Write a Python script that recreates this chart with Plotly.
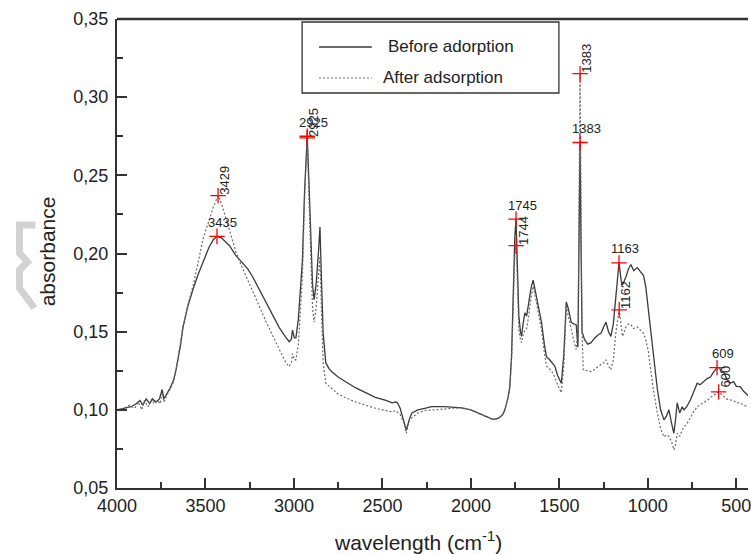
import plotly.graph_objects as go

# ---------------- data ----------------
wn_before = [4000, 3960, 3920, 3890, 3870, 3855, 3835, 3815, 3800, 3780, 3760, 3745, 3735, 3720, 3700,
             3680, 3664, 3640, 3627, 3600, 3571, 3540, 3515, 3480, 3455, 3435, 3410, 3380, 3364, 3330,
             3300, 3260, 3233, 3200, 3158, 3120, 3083, 3050, 3027, 3015, 3008, 2998, 2989, 2975, 2965,
             2952, 2940, 2932, 2925, 2915, 2905, 2895, 2886, 2875, 2862, 2853, 2845, 2835, 2820, 2800,
             2783, 2750, 2708, 2650, 2595, 2540, 2480, 2445, 2425, 2415, 2400, 2380, 2365, 2355, 2345,
             2333, 2300, 2260, 2222, 2150, 2100, 2052, 2000, 1958, 1920, 1880, 1860, 1840, 1820, 1808,
             1790, 1780, 1770, 1761, 1752, 1745, 1738, 1729, 1720, 1714, 1705, 1695, 1685, 1676, 1660,
             1648, 1635, 1620, 1601, 1585, 1573, 1555, 1540, 1526, 1510, 1489, 1475, 1461, 1450, 1433,
             1420, 1405, 1395, 1390, 1383, 1377, 1372, 1358, 1340, 1321, 1300, 1280, 1265, 1250, 1237,
             1222, 1209, 1195, 1180, 1163, 1150, 1143, 1124, 1110, 1096, 1080, 1060, 1040, 1025, 1012,
             998, 984, 965, 946, 928, 909, 895, 881, 867, 853, 845, 834, 820, 806, 796, 780, 759, 740,
             721, 705, 684, 665, 646, 630, 609, 595, 585, 571, 555, 534, 515, 500, 478, 460, 441, 434]
abs_before = [0.100, 0.101, 0.102, 0.104, 0.106, 0.103, 0.107, 0.104, 0.107, 0.105, 0.107, 0.113, 0.107, 0.110, 0.114,
              0.119, 0.127, 0.142, 0.153, 0.166, 0.177, 0.187, 0.194, 0.204, 0.209, 0.211, 0.210, 0.207, 0.205, 0.199,
              0.195, 0.190, 0.185, 0.178, 0.169, 0.161, 0.1526, 0.147, 0.1436, 0.145, 0.151, 0.146, 0.146, 0.158, 0.175,
              0.196, 0.240, 0.265, 0.275, 0.245, 0.205, 0.180, 0.1705, 0.180, 0.200, 0.217, 0.185, 0.149, 0.130, 0.126,
              0.124, 0.121, 0.118, 0.114, 0.111, 0.108, 0.106, 0.1045, 0.105, 0.1045, 0.101, 0.093, 0.087, 0.091, 0.095,
              0.098, 0.100, 0.101, 0.102, 0.102, 0.1018, 0.1013, 0.100, 0.098, 0.096, 0.094, 0.094, 0.095, 0.097, 0.100,
              0.108, 0.115, 0.135, 0.181, 0.210, 0.222, 0.190, 0.160, 0.150, 0.147, 0.155, 0.162, 0.160, 0.166, 0.178,
              0.183, 0.175, 0.166, 0.156, 0.142, 0.134, 0.132, 0.130, 0.128, 0.122, 0.117, 0.135, 0.169, 0.165, 0.156,
              0.155, 0.1545, 0.140, 0.200, 0.271, 0.200, 0.150, 0.145, 0.142, 0.143, 0.146, 0.148, 0.149, 0.153, 0.156,
              0.150, 0.147, 0.155, 0.175, 0.194, 0.182, 0.180, 0.185, 0.190, 0.193, 0.189, 0.191, 0.1885, 0.186, 0.179,
              0.165, 0.151, 0.130, 0.113, 0.100, 0.0936, 0.096, 0.100, 0.092, 0.085, 0.092, 0.1045, 0.098, 0.102, 0.100,
              0.102, 0.1064, 0.112, 0.117, 0.116, 0.118, 0.120, 0.121, 0.124, 0.127, 0.127, 0.124, 0.124, 0.120, 0.117,
              0.118, 0.115, 0.1148, 0.112, 0.110, 0.109]

wn_after = [4000, 3960, 3930, 3900, 3880, 3860, 3845, 3825, 3805, 3790, 3770, 3755, 3745, 3735, 3720,
            3700, 3680, 3664, 3640, 3627, 3600, 3571, 3540, 3515, 3477, 3455, 3429, 3410, 3383, 3355,
            3327, 3300, 3270, 3233, 3195, 3160, 3120, 3080, 3045, 3027, 3015, 3008, 2998, 2989, 2975,
            2965, 2952, 2940, 2932, 2925, 2915, 2905, 2895, 2886, 2875, 2862, 2853, 2845, 2835, 2820,
            2800, 2783, 2750, 2708, 2650, 2595, 2540, 2480, 2445, 2425, 2415, 2400, 2380, 2365, 2355,
            2345, 2333, 2300, 2260, 2222, 2150, 2100, 2052, 2000, 1958, 1920, 1880, 1860, 1840, 1820,
            1808, 1790, 1780, 1770, 1761, 1752, 1744, 1738, 1729, 1720, 1714, 1705, 1695, 1685, 1676,
            1660, 1648, 1635, 1620, 1601, 1585, 1573, 1555, 1540, 1526, 1510, 1489, 1475, 1461, 1450,
            1433, 1420, 1405, 1395, 1390, 1383, 1377, 1372, 1365, 1340, 1321, 1300, 1280, 1265, 1250,
            1237, 1222, 1209, 1195, 1180, 1162, 1150, 1143, 1124, 1110, 1096, 1080, 1060, 1040, 1025,
            1012, 998, 984, 965, 946, 928, 909, 895, 881, 867, 853, 845, 834, 820, 806, 796, 780, 759,
            740, 721, 705, 684, 665, 646, 630, 600, 585, 571, 555, 534, 515, 500, 478, 460, 441, 434]
abs_after = [0.100, 0.101, 0.103, 0.101, 0.105, 0.100, 0.106, 0.102, 0.107, 0.104, 0.106, 0.104, 0.111, 0.105, 0.109,
             0.113, 0.118, 0.127, 0.144, 0.153, 0.167, 0.179, 0.195, 0.209, 0.222, 0.230, 0.237, 0.232, 0.222, 0.211,
             0.2006, 0.193, 0.185, 0.176, 0.166, 0.157, 0.147, 0.138, 0.130, 0.1277, 0.130, 0.136, 0.132, 0.132, 0.142,
             0.160, 0.185, 0.235, 0.262, 0.274, 0.235, 0.195, 0.165, 0.156, 0.165, 0.185, 0.198, 0.165, 0.130, 0.117,
             0.115, 0.113, 0.110, 0.1077, 0.105, 0.103, 0.101, 0.0995, 0.0987, 0.0995, 0.0985, 0.097, 0.092, 0.085, 0.090,
             0.094, 0.095, 0.098, 0.0995, 0.100, 0.1005, 0.101, 0.1013, 0.100, 0.098, 0.096, 0.094, 0.094, 0.095, 0.097,
             0.100, 0.107, 0.114, 0.133, 0.175, 0.198, 0.205, 0.180, 0.151, 0.145, 0.143, 0.148, 0.151, 0.152, 0.158,
             0.172, 0.179, 0.172, 0.162, 0.151, 0.137, 0.128, 0.126, 0.124, 0.121, 0.116, 0.111, 0.128, 0.166, 0.160,
             0.151, 0.145, 0.1385, 0.150, 0.220, 0.315, 0.220, 0.150, 0.1256, 0.125, 0.1245, 0.126, 0.128, 0.129, 0.130,
             0.132, 0.128, 0.1256, 0.132, 0.150, 0.164, 0.152, 0.147, 0.153, 0.155, 0.1545, 0.152, 0.153, 0.151, 0.149,
             0.145, 0.138, 0.1256, 0.110, 0.098, 0.088, 0.0827, 0.084, 0.083, 0.080, 0.0744, 0.077, 0.085, 0.083, 0.087,
             0.089, 0.091, 0.0955, 0.099, 0.102, 0.103, 0.1045, 0.106, 0.108, 0.109, 0.1115, 0.110, 0.108, 0.107, 0.1064,
             0.106, 0.1045, 0.1045, 0.103, 0.102, 0.102]

peaks_before_wn = [3435, 2925, 1745, 1383, 1163, 609]
peaks_before_abs = [0.211, 0.275, 0.222, 0.271, 0.194, 0.127]
peaks_after_wn = [3429, 2925, 1744, 1383, 1162, 600]
peaks_after_abs = [0.237, 0.274, 0.205, 0.315, 0.164, 0.1115]

series_names = ["Before adorption", "After adsorption"]
x_ticks = [4000, 3500, 3000, 2500, 2000, 1500, 1000, 500]
y_ticks = [0.05, 0.10, 0.15, 0.20, 0.25, 0.30, 0.35]

# ---------------- layout geometry ----------------
W, H = 751, 554
L, R, T, B = 117, 0, 19, 66
PW, PH = W - L - R, H - T - B


def px(xp):
    return (xp - L) / PW


def py(yp):
    return (H - B - yp) / PH


FONT = "Liberation Sans, Arial, sans-serif"
INK = "#222222"
AX = "#333333"

fig = go.Figure()
fig.add_trace(go.Scatter(x=wn_before, y=abs_before, mode="lines", name=series_names[0],
                         line=dict(color="#3a3a3a", width=1.3), showlegend=False))
fig.add_trace(go.Scatter(x=wn_after, y=abs_after, mode="lines", name=series_names[1],
                         line=dict(color="#6a6a6a", width=1.2, dash="2px,2px"), showlegend=False))
fig.add_trace(go.Scatter(x=peaks_before_wn + peaks_after_wn, y=peaks_before_abs + peaks_after_abs,
                         mode="markers", showlegend=False,
                         marker=dict(symbol="cross-thin", size=11, line=dict(color="#ff0000", width=1.3))))

annotations = []
for w, a in zip(peaks_before_wn, peaks_before_abs):
    annotations.append(dict(x=w, y=a, xref="x", yref="y", text=str(w), showarrow=False,
                            xanchor="center", yanchor="middle",
                            xshift=6, yshift=14, font=dict(family=FONT, size=13, color=INK)))
for w, a in zip(peaks_after_wn, peaks_after_abs):
    annotations.append(dict(x=w, y=a, xref="x", yref="y", text=str(w), showarrow=False,
                            xanchor="center", yanchor="middle",
                            textangle=-90, xshift=7, yshift=15, font=dict(family=FONT, size=13, color=INK)))

# axis titles
annotations.append(dict(x=px(47), y=py(251), xref="paper", yref="paper", text="absorbance",
                        xanchor="center", yanchor="middle",
                        textangle=-90, showarrow=False, font=dict(family=FONT, size=21, color=INK)))
annotations.append(dict(x=px(419), y=py(541), xref="paper", yref="paper",
                        text="wavelength (cm<sup>-1</sup>)", showarrow=False,
                        xanchor="center", yanchor="middle",
                        font=dict(family=FONT, size=21, color=INK)))

# legend (manual box)
annotations.append(dict(x=px(387), y=py(47), xref="paper", yref="paper", text=series_names[0],
                        xanchor="left", yanchor="middle", showarrow=False,
                        font=dict(family=FONT, size=17, color=INK)))
annotations.append(dict(x=px(382), y=py(78), xref="paper", yref="paper", text=series_names[1],
                        xanchor="left", yanchor="middle", showarrow=False,
                        font=dict(family=FONT, size=17, color=INK)))

shapes = [
    # top frame line
    dict(type="line", xref="paper", yref="paper", x0=0, x1=1, y0=1, y1=1,
         line=dict(color=AX, width=2.5)),
    # legend box and samples
    dict(type="rect", xref="paper", yref="paper", x0=px(303), x1=px(561), y0=py(22), y1=py(93),
         line=dict(color=AX, width=1.3), fillcolor="white"),
    dict(type="line", xref="paper", yref="paper", x0=px(320), x1=px(373), y0=py(47), y1=py(47),
         line=dict(color="#3a3a3a", width=1.3)),
    dict(type="line", xref="paper", yref="paper", x0=px(320), x1=px(373), y0=py(78), y1=py(78),
         line=dict(color="#6a6a6a", width=1.2, dash="2px,2px")),
    # light grey bracket artefact on the left
    dict(type="path", xref="paper", yref="paper",
         path=f"M {px(35)} {py(225)} L {px(19)} {py(225)} L {px(19)} {py(253)} L {px(27)} {py(262)} "
              f"L {px(19)} {py(270)} L {px(19)} {py(288)} L {px(34)} {py(308)}",
         line=dict(color="#d2d2d2", width=7)),
]

fig.update_layout(
    width=W, height=H, margin=dict(l=L, r=R, t=T, b=B, pad=0),
    paper_bgcolor="white", plot_bgcolor="white",
    separators=", ",
    showlegend=False,
    annotations=annotations, shapes=shapes,
    font=dict(family=FONT, color=INK),
)
fig.update_xaxes(range=[4000, 434], tickvals=x_ticks, ticktext=[str(v) for v in x_ticks],
                 ticks="inside", ticklen=10, tickwidth=1.5, tickcolor=AX,
                 showline=True, linecolor=AX, linewidth=2, showgrid=False, zeroline=False,
                 tickfont=dict(family=FONT, size=18, color=INK), ticklabeloverflow="allow",
                 minor=dict(dtick=250, tick0=0, ticks="inside", ticklen=6, tickwidth=1.5, tickcolor=AX))
fig.update_yaxes(range=[0.05, 0.35], tickvals=y_ticks, ticktext=[f"{v:.2f}".replace(".", ",") for v in y_ticks],
                 ticks="inside", ticklen=10, tickwidth=1.5, tickcolor=AX,
                 showline=True, linecolor=AX, linewidth=2, showgrid=False, zeroline=False,
                 tickfont=dict(family=FONT, size=18, color=INK), ticklabelstandoff=3,
                 minor=dict(dtick=0.025, tick0=0, ticks="inside", ticklen=6, tickwidth=1.5, tickcolor=AX))

fig.write_html("out.html")
